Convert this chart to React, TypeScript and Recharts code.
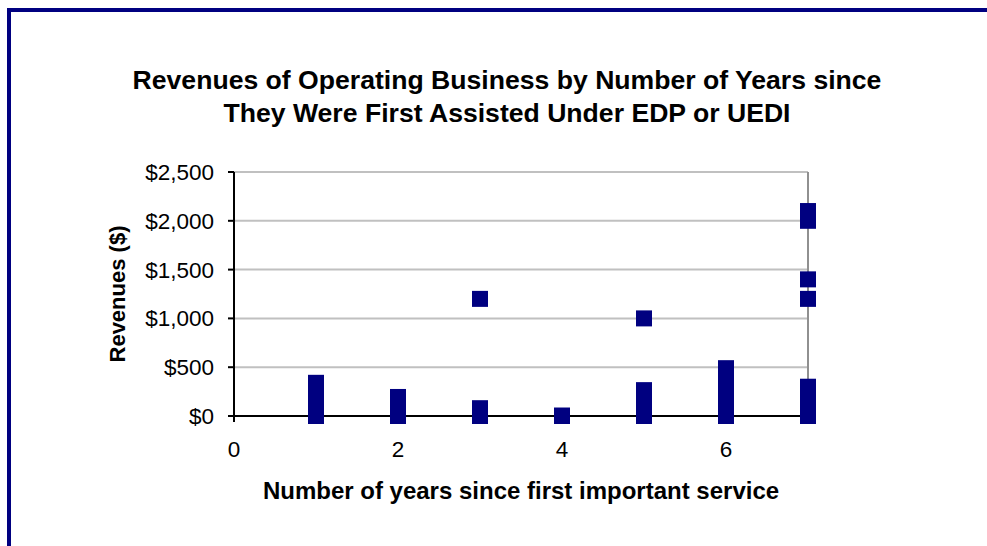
import React from "react";
import {
  ScatterChart,
  Scatter,
  XAxis,
  YAxis,
  CartesianGrid,
  ReferenceLine,
  Label,
} from "recharts";

// Tick values
const xTicks = [0, 2, 4, 6];
const yTicks = [0, 500, 1000, 1500, 2000, 2500];

// Revenues ($) by number of years since first important service
const year1Revenues = [0, 15, 35, 60, 95, 130, 180, 220, 275, 340];
const year2Revenues = [0, 10, 25, 50, 80, 120, 160, 195];
const year3Revenues = [0, 20, 45, 80, 1200];
const year4Revenues = [0, 5];
const year5Revenues = [0, 20, 50, 90, 140, 200, 265, 1000];
const year6Revenues = [0, 30, 60, 100, 150, 200, 260, 320, 400, 490];
const year7Revenues = [0, 40, 100, 180, 240, 300, 1200, 1400, 2000, 2100];

const years = [1, 2, 3, 4, 5, 6, 7];
const revenuesByYear = [
  year1Revenues,
  year2Revenues,
  year3Revenues,
  year4Revenues,
  year5Revenues,
  year6Revenues,
  year7Revenues,
];

const points = years.flatMap((yr, i) =>
  revenuesByYear[i].map((rev) => ({ years: yr, revenue: rev }))
);

const NAVY = "#000080";
const FONT = "'Liberation Sans', Arial, sans-serif";

const SquareMarker = (props: any) => {
  const { cx, cy } = props;
  return <rect x={cx - 8} y={cy - 8} width={16} height={16} fill={NAVY} />;
};

const fmtDollar = (v: number) => "$" + v.toLocaleString("en-US");

export default function App() {
  return (
    <div
      style={{
        position: "absolute",
        left: 0,
        top: 0,
        width: 987,
        height: 546,
        overflow: "hidden",
        background: "#fff",
        fontFamily: FONT,
      }}
    >
      <div
        style={{
          position: "absolute",
          left: 7,
          top: 8,
          width: 1100,
          height: 700,
          border: `4px solid ${NAVY}`,
          boxSizing: "border-box",
        }}
      />
      <div
        style={{
          position: "absolute",
          left: 0,
          width: 1014,
          top: 64,
          textAlign: "center",
          fontWeight: "bold",
          fontSize: 26.6,
          lineHeight: "33px",
          color: "#000",
        }}
      >
        Revenues of Operating Business by Number of Years since
        <br />
        They Were First Assisted Under EDP or UEDI
      </div>
      <div style={{ position: "absolute", left: 0, top: 0 }}>
        <ScatterChart
          width={987}
          height={546}
          margin={{ top: 172, right: 179, bottom: 50, left: 134 }}
          style={{ fontFamily: FONT }}
        >
          <CartesianGrid
            horizontal={true}
            vertical={false}
            stroke="#c0c0c0"
            strokeWidth={2}
          />
          <ReferenceLine x={7} stroke="#909090" strokeWidth={2} />
          <XAxis
            type="number"
            dataKey="years"
            domain={[0, 7]}
            ticks={xTicks}
            height={80}
            stroke="#000"
            strokeWidth={2}
            tickSize={6}
            tickMargin={19}
            tick={{ fill: "#000", fontSize: 22.5, fontFamily: FONT }}
          >
            <Label
              value="Number of years since first important service"
              position="insideBottom"
              offset={-3}
              style={{ fontWeight: "bold", fontSize: 24, fill: "#000", fontFamily: FONT }}
            />
          </XAxis>
          <YAxis
            type="number"
            dataKey="revenue"
            domain={[0, 2500]}
            ticks={yTicks}
            width={100}
            stroke="#000"
            strokeWidth={2}
            tickSize={6}
            tickMargin={14}
            tickFormatter={fmtDollar}
            tick={{ fill: "#000", fontSize: 22.5, fontFamily: FONT }}
          >
            <Label
              value="Revenues ($)"
              angle={-90}
              position="insideLeft"
              offset={-17}
              style={{
                fontWeight: "bold",
                fontSize: 22,
                fill: "#000",
                fontFamily: FONT,
                textAnchor: "middle",
              }}
            />
          </YAxis>
          <Scatter
            data={points}
            shape={SquareMarker}
            isAnimationActive={false}
          />
        </ScatterChart>
      </div>
    </div>
  );
}
